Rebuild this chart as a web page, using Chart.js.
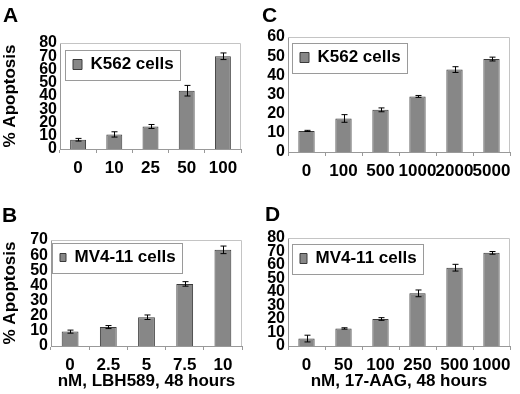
<!DOCTYPE html>
<html>
<head>
<meta charset="utf-8">
<script src="https://cdn.jsdelivr.net/npm/chart.js@4.4.1/dist/chart.umd.min.js"></script>
<style>
    body { margin: 0; background: #fff; }
    #wrap { position: relative; width: 520px; height: 394px; font-family: "Liberation Sans", Arial, sans-serif; }
    canvas { position: absolute; }
    .panel-letter { position: absolute; font-weight: bold; font-size: 21px; line-height: 21px; }
</style>
</head>
<body>
<div id="wrap">
    <canvas id="chartA" width="260" height="197" style="left:0;top:0"></canvas>
    <canvas id="chartC" width="260" height="197" style="left:260px;top:0"></canvas>
    <canvas id="chartB" width="260" height="197" style="left:0;top:197px"></canvas>
    <canvas id="chartD" width="260" height="197" style="left:260px;top:197px"></canvas>
    <div class="panel-letter" style="left:3px;top:4px">A</div>
    <div class="panel-letter" style="left:262px;top:4px">C</div>
    <div class="panel-letter" style="left:2px;top:204px">B</div>
    <div class="panel-letter" style="left:265px;top:203px">D</div>
</div>
<script>
// panel A: K562, LBH589
const lbhK562Labels = ["0", "10", "25", "50", "100"];
const lbhK562Values = [7, 11, 17, 44, 70];
const lbhK562Errors = [1, 2, 1.5, 4, 2.5];

// panel B: MV4-11, LBH589
const lbhMv4Labels = ["0", "2.5", "5", "7.5", "10"];
const lbhMv4Values = [9.5, 12.5, 19, 41, 63.5];
const lbhMv4Errors = [1, 1, 1.5, 1.5, 2.5];

// panel C: K562, 17-AAG
const aagK562Labels = ["0", "100", "500", "1000", "2000", "5000"];
const aagK562Values = [11, 17.5, 22, 29, 43, 48.5];
const aagK562Errors = [0.3, 2, 1, 0.5, 1.5, 1];

// panel D: MV4-11, 17-AAG
const aagMv4Labels = ["0", "50", "100", "250", "500", "1000"];
const aagMv4Values = [5.5, 13, 20, 39, 58, 69];
const aagMv4Errors = [2.5, 0.5, 1, 2.5, 2.5, 1];

const FONT = "'Liberation Sans', Arial, sans-serif";

const errorBarsPlugin = {
    id: "errorBars",
    afterDatasetsDraw(chart) {
        const ctx = chart.ctx;
        const yScale = chart.scales.y;
        const errors = chart.options.plugins.errorBars.errors;
        const meta = chart.getDatasetMeta(0);
        const values = chart.data.datasets[0].data;
        ctx.save();
        ctx.strokeStyle = "#000";
        ctx.lineWidth = 1;
        meta.data.forEach((bar, i) => {
            const x = Math.round(bar.x) + 0.5;
            const top = yScale.getPixelForValue(values[i] + errors[i]);
            const bottom = yScale.getPixelForValue(values[i] - errors[i]);
            ctx.beginPath();
            ctx.moveTo(x, top);
            ctx.lineTo(x, bottom);
            ctx.moveTo(x - 3, top);
            ctx.lineTo(x + 3, top);
            ctx.moveTo(x - 3, bottom);
            ctx.lineTo(x + 3, bottom);
            ctx.stroke();
        });
        ctx.restore();
    }
};

const framePlugin = {
    id: "frames",
    afterLayout(chart) {
        // keep the legend inside the plot, at its top left
        const legend = chart.legend;
        const area = chart.chartArea;
        legend.top = area.top;
        legend.bottom = area.top + legend.height;
    },
    afterDraw(chart) {
        const ctx = chart.ctx;
        const area = chart.chartArea;
        ctx.save();
        ctx.lineWidth = 1;
        // light border on top and right of the plot
        ctx.strokeStyle = "#c4c4c4";
        ctx.beginPath();
        ctx.moveTo(area.left, area.top + 0.5);
        ctx.lineTo(area.right - 0.5, area.top + 0.5);
        ctx.lineTo(area.right - 0.5, area.bottom);
        ctx.stroke();
        // box around the legend entry
        const hit = chart.legend.legendHitBoxes[0];
        if (hit) {
            const cy = hit.top + hit.height / 2;
            ctx.strokeStyle = "#9a9a9a";
            ctx.strokeRect(Math.round(hit.left - 8) + 0.5, Math.round(cy - 15) + 0.5,
                Math.round(hit.width + 14), 30);
        }
        ctx.restore();
    }
};

function makePanel(canvasId, labels, values, errors, legendText, opts) {
    const canvas = document.getElementById(canvasId);
    new Chart(canvas, {
        type: "bar",
        data: {
            labels: labels,
            datasets: [{
                label: legendText,
                data: values,
                backgroundColor: "#878787",
                borderColor: "#3a3a3a",
                borderWidth: 1,
                barPercentage: 0.44,
                categoryPercentage: 1
            }]
        },
        options: {
            responsive: false,
            animation: false,
            layout: {
                padding: { top: opts.top, right: 260 - opts.right, left: 0, bottom: 0 }
            },
            plugins: {
                tooltip: { enabled: false },
                legend: {
                    display: true,
                    position: "chartArea",
                    align: "start",
                    labels: {
                        color: "#000",
                        font: { family: FONT, size: 17, weight: "bold" },
                        boxWidth: opts.boxW,
                        boxHeight: opts.boxH,
                        padding: opts.legendPad
                    }
                },
                errorBars: { errors: errors }
            },
            scales: {
                x: {
                    afterFit: scale => { scale.height = 197 - opts.bottom; },
                    grid: { drawOnChartArea: false, drawTicks: true, tickLength: 4, color: "#999" },
                    border: { display: true, color: "#999" },
                    ticks: {
                        color: "#000",
                        font: { family: FONT, size: 17, weight: "bold" },
                        padding: 5,
                        maxRotation: 0,
                        autoSkip: false
                    },
                    title: {
                        display: !!opts.xTitle,
                        text: opts.xTitle || "",
                        color: "#000",
                        font: { family: FONT, size: 17, weight: "bold" },
                        padding: { top: 0, bottom: 2 }
                    }
                },
                y: {
                    min: 0,
                    max: opts.yMax,
                    afterFit: scale => { scale.width = opts.left; },
                    grid: { display: false, drawTicks: false },
                    border: { display: true, color: "#999" },
                    ticks: {
                        stepSize: 10,
                        autoSkip: false,
                        color: "#000",
                        padding: 3,
                        font: { family: FONT, size: 16, weight: "bold" }
                    },
                    title: {
                        display: !!opts.yTitle,
                        text: opts.yTitle || "",
                        color: "#000",
                        font: { family: FONT, size: 17, weight: "bold" },
                        padding: 0
                    }
                }
            }
        },
        plugins: [errorBarsPlugin, framePlugin]
    });
}

makePanel("chartA", lbhK562Labels, lbhK562Values, lbhK562Errors, "K562 cells",
    { left: 60, top: 43, right: 241, bottom: 149, yMax: 80, yTitle: "% Apoptosis", boxW: 9, boxH: 10, legendPad: 13 });
makePanel("chartC", aagK562Labels, aagK562Values, aagK562Errors, "K562 cells",
    { left: 28, top: 37, right: 250, bottom: 152, yMax: 60, boxW: 9, boxH: 10, legendPad: 12 });
makePanel("chartB", lbhMv4Labels, lbhMv4Values, lbhMv4Errors, "MV4-11 cells",
    { left: 51, top: 43, right: 242, bottom: 149, yMax: 70, yTitle: "% Apoptosis", xTitle: "nM, LBH589, 48 hours", boxW: 6, boxH: 8, legendPad: 9 });
makePanel("chartD", aagMv4Labels, aagMv4Values, aagMv4Errors, "MV4-11 cells",
    { left: 28, top: 41, right: 250, bottom: 149, yMax: 80, xTitle: "nM, 17-AAG, 48 hours", boxW: 7, boxH: 10, legendPad: 12 });
</script>
</body>
</html>
